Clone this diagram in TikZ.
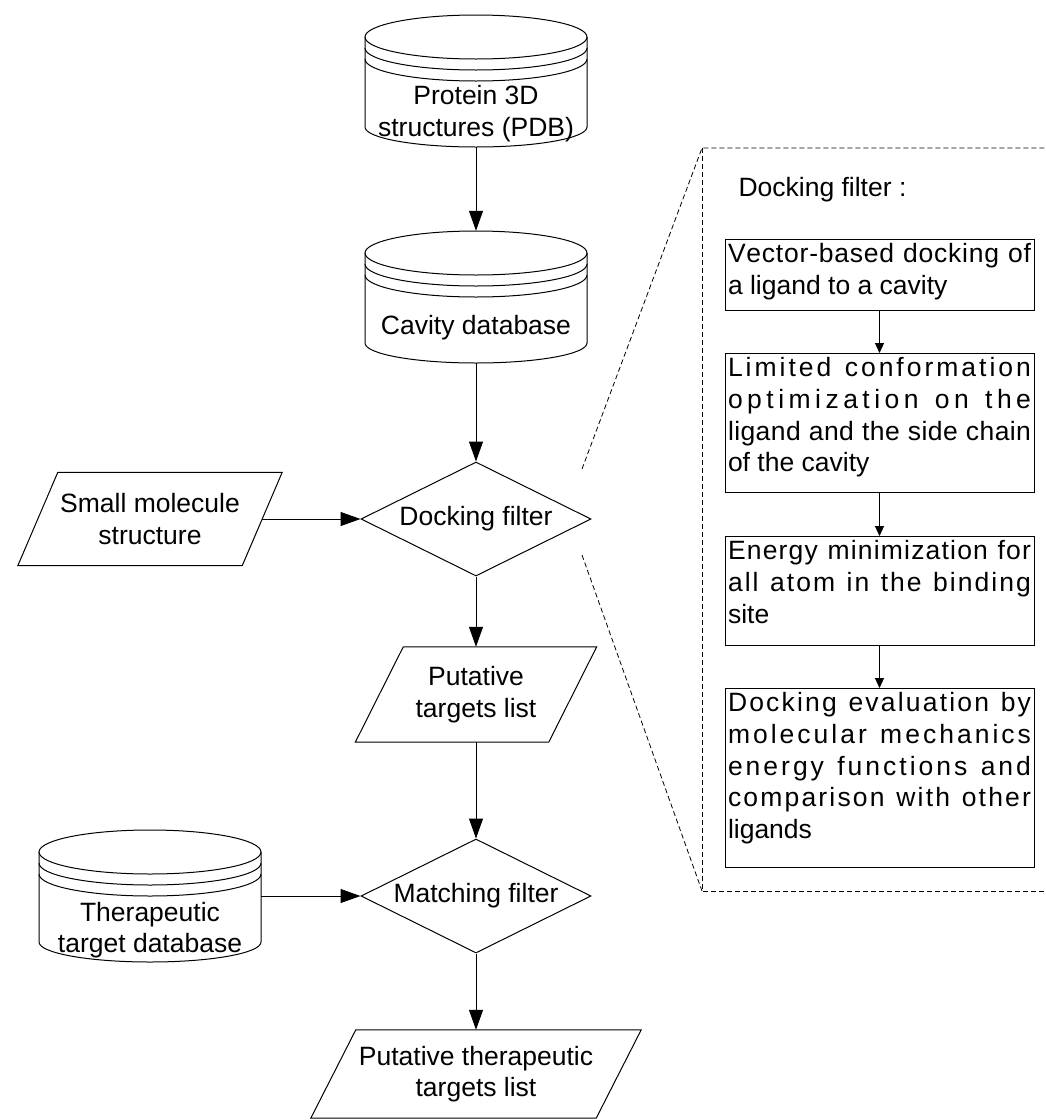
\documentclass[tikz,border=0pt]{standalone}
\usepackage{fontspec}
\setmainfont{Liberation Sans}
\usetikzlibrary{shapes.geometric,arrows.meta}

% Distribute the slack of a line evenly between all of its characters
\ExplSyntaxOn
\seq_new:N \l__spread_words_seq
\tl_new:N \l__spread_line_tl
\cs_new_protected:Npn \spreadline #1
 {
  \mode_leave_vertical:
  \seq_set_split:Nnn \l__spread_words_seq { ~ } {#1}
  \tl_clear:N \l__spread_line_tl
  \seq_map_inline:Nn \l__spread_words_seq
   {
    \tl_if_empty:NF \l__spread_line_tl
     { \tl_put_right:Nn \l__spread_line_tl { \c_space_tl \hfil } }
    \tl_map_inline:nn {##1}
     { \tl_put_right:Nn \l__spread_line_tl { ####1 \hfil } }
   }
  \hbox_to_wd:nn { \linewidth } { \l__spread_line_tl \unskip }
 }
\ExplSyntaxOff

% Top-aligned text block of a processing step
\newcommand{\steptext}[2]{\begin{minipage}[c][#1][t]{303pt}#2\end{minipage}}

% Database drum: name, centre x, top y (downwards)
\newcommand{\dbdrum}[3]{%
  \begin{scope}[shift={(#2,-#3)}, line width=1pt]
    \draw (-111,-22) -- (-111,-112)
      arc[start angle=180, end angle=360, x radius=111, y radius=20] -- (111,-22);
    \draw (0,-22) ellipse[x radius=111, y radius=22];
    \draw (-111,-33) arc[start angle=180, end angle=360, x radius=111, y radius=22];
    \draw (-111,-44) arc[start angle=180, end angle=360, x radius=111, y radius=22];
  \end{scope}
  \node[minimum width=222pt, minimum height=132pt, inner sep=0pt] (#1) at (#2,-#3-66) {};
}

% Slanted frame of a data node: name, half horizontal offset
\newcommand{\slantframe}[2]{%
  \draw[line width=1pt] ([xshift=#2]#1.north west) -- ([xshift=#2]#1.north east)
    -- ([xshift=-#2]#1.south east) -- ([xshift=-#2]#1.south west) -- cycle;
}

\tikzset{
  every node/.style={font=\fontsize{26.5}{31.7}\selectfont},
  arr/.style={-{Triangle[length=20pt,width=14pt]}, line width=1pt},
  sarr/.style={-{Triangle[length=10pt,width=9pt]}, line width=1pt},
  decision/.style={diamond, draw, line width=1pt, minimum width=230pt,
    minimum height=114pt, aspect=2, inner sep=0pt},
  iobox/.style={inner sep=0pt, align=center},
  stepbox/.style={draw, line width=1pt, inner xsep=3pt, inner ysep=4pt, anchor=north},
  zoomline/.style={line width=0.8pt, dash pattern=on 5pt off 3pt},
}

\begin{document}
\begin{tikzpicture}[x=1pt, y=1pt]
\useasboundingbox (0,0) rectangle (1045,-1120);

% databases
\dbdrum{prot}{476}{15}
\node[align=center] (prot-text) at (476,-113.5) {Protein 3D\\structures (PDB)};
\dbdrum{cav}{476}{231}
\node (cav-text) at (476,-328) {Cavity database};
\dbdrum{ther}{150}{830}
\node[align=center] (ther-text) at (150,-930) {Therapeutic\\target database};

% decisions
\node[decision] (dock) at (476,-519) {Docking filter};
\node[decision] (match) at (476,-896) {Matching filter};

% data nodes
\node[iobox, minimum width=224pt, minimum height=93pt] (small) at (150,-519)
  {Small molecule\\structure};
\slantframe{small}{20pt}
\node[iobox, minimum width=193pt, minimum height=95pt] (put) at (476,-694.5)
  {Putative\\targets list};
\slantframe{put}{24pt}
\node[iobox, minimum width=285pt, minimum height=88pt] (final) at (476,-1074)
  {Putative therapeutic\\targets list};
\slantframe{final}{22.5pt}

% main flow
\draw[arr] (prot.south) -- (cav.north);
\draw[arr] (cav.south) -- (dock.north);
\draw[arr] (small.east) -- (dock.west);
\draw[arr] (dock.south) -- (put.north);
\draw[arr] (put.south) -- (match.north);
\draw[arr] (ther.east) -- (match.west);
\draw[arr] (match.south) -- (final.north);

% detail of the docking filter
\coordinate (zt) at (702,-148);
\coordinate (zb) at (702,-891);
\coordinate (zte) at (1046,-148);
\coordinate (zbe) at (1046,-891);
\coordinate (zu) at (582,-469);
\coordinate (zl) at (582,-555);
\draw[zoomline] (zu) -- (zt) -- (zte);
\draw[zoomline] (zt) -- (zb) -- (zbe);
\draw[zoomline] (zl) -- (zb);

\node[anchor=west] (dtitle) at (735,-190) {Docking filter :};

\node[stepbox] (s1) at (879.5,-239) {\steptext{63pt}{%
  \spreadline{Vector-based docking of}\\a ligand to a cavity}};
\node[stepbox] (s2) at (879.5,-353) {\steptext{131pt}{%
  \spreadline{Limited conformation}\\\spreadline{optimization on the}\\%
  \spreadline{ligand and the side chain}\\of the cavity}};
\node[stepbox] (s3) at (879.5,-536) {\steptext{101pt}{%
  \spreadline{Energy minimization for}\\\spreadline{all atom in the binding}\\site}};
\node[stepbox] (s4) at (879.5,-688) {\steptext{171pt}{%
  \spreadline{Docking evaluation by}\\\spreadline{molecular mechanics}\\%
  \spreadline{energy functions and}\\\spreadline{comparison with other}\\ligands}};

\draw[sarr] (s1.south) -- (s2.north);
\draw[sarr] (s2.south) -- (s3.north);
\draw[sarr] (s3.south) -- (s4.north);
\end{tikzpicture}
\end{document}
